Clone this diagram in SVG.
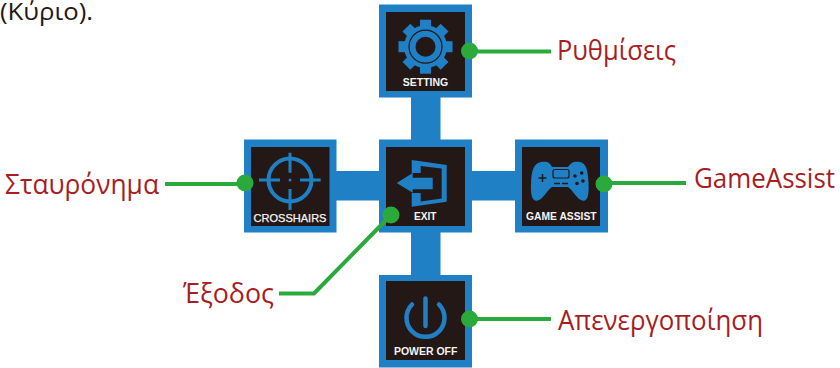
<svg xmlns="http://www.w3.org/2000/svg" width="840" height="368" viewBox="0 0 840 368">
<style>
.o{fill:#1f80c6}
.i{fill:#231815}
.b{fill:#1f80c6}
.t{font-family:"Liberation Sans",Arial,sans-serif;font-weight:700;font-size:11px;fill:#f4f4f4;text-anchor:middle}
.l{font-family:"Open Sans","Noto Sans",sans-serif;font-size:27px;fill:#a61e24}
.c{fill:none;stroke:#2aaa3c;stroke-width:4}
.d{fill:#2aaa3c}
</style>
<rect width="840" height="368" fill="#fff"/>
<text x="0" y="20" textLength="93" lengthAdjust="spacingAndGlyphs" style="font-family:'Open Sans','Noto Sans',sans-serif;font-size:23px;fill:#231815">(Κύριο).</text>
<g id="frame">
<rect class="b" x="411" y="97" width="29.500" height="178"/>
<rect class="b" x="336" y="171" width="179" height="29.500"/>
</g>
<g id="setting">
<rect class="o" x="379" y="4.500" width="93" height="93"/>
<rect class="i" x="386" y="12" width="79" height="79"/>
<g fill="#1f80c6">
<rect x="420" y="19.700" width="11" height="54"/>
<rect x="420" y="19.700" width="11" height="54" transform="rotate(45 425.500 46.700)"/>
<rect x="420" y="19.700" width="11" height="54" transform="rotate(90 425.500 46.700)"/>
<rect x="420" y="19.700" width="11" height="54" transform="rotate(135 425.500 46.700)"/>
<circle cx="425.500" cy="46.700" r="21.500"/>
</g>
<circle cx="425.500" cy="46.700" r="16.500" fill="none" stroke="#231815" stroke-width="1.200"/>
<circle cx="425.500" cy="46.700" r="10" fill="#231815"/>
<text class="t" x="425.500" y="85.500" textLength="45.500" lengthAdjust="spacingAndGlyphs">SETTING</text>
</g>
<g id="crosshairs">
<rect class="o" x="244" y="139.500" width="92.500" height="93"/>
<rect class="i" x="251" y="147" width="78.500" height="79"/>
<circle cx="290" cy="180" r="21.500" fill="none" stroke="#1f80c6" stroke-width="4"/>
<path d="M290 152.700v20M290 189v21M259 180h21M300 180h20.700" fill="none" stroke="#1f80c6" stroke-width="3"/>
<circle cx="290" cy="180" r="1.500" fill="#1f80c6"/>
<text class="t" x="290" y="221.700" textLength="73" lengthAdjust="spacingAndGlyphs" style="font-weight:400;stroke:#f4f4f4;stroke-width:.25">CROSSHAIRS</text>
</g>
<g id="exit">
<rect class="o" x="379" y="139.500" width="93" height="93"/>
<rect class="i" x="386" y="147" width="79" height="79"/>
<path class="b" d="M396.700 183L412.700 173V177.700H432.700V189.300H412.700V192.700Z"/>
<path class="b" d="M411.700 160L446.700 165V201.700L411.700 206.700V193H420.700V201.500L441.700 198.500V168.500L420.700 166V173H411.700Z"/>
<text class="t" x="425.300" y="220" textLength="22.500" lengthAdjust="spacingAndGlyphs">EXIT</text>
</g>
<g id="game-assist">
<rect class="o" x="515" y="139.500" width="93" height="93"/>
<rect class="i" x="522" y="147" width="78" height="79"/>
<path class="b" d="M541 162C548 161 550 163 552 167H568C571 163 573 161 580 162C586 163 588 170 588.500 183C589 195 588 201 583 200.700C577 200 573 190 568 187H552C547 190 543 200 537 200.700C532 201 530.500 195 531 183C531.500 170 534 163 541 162Z"/>
<rect x="553" y="169.500" width="16" height="8.500" rx="2" fill="none" stroke="#231815" stroke-width="1.200"/>
<path d="M554 183.500h6M562 183.500h6M538.500 178h8M542.500 174v8" stroke="#231815" stroke-width="1.500" fill="none"/>
<g fill="#231815"><circle cx="575" cy="176" r="1.800"/><circle cx="581.700" cy="173" r="1.800"/><circle cx="577" cy="183.500" r="1.800"/><circle cx="583" cy="181" r="1.800"/></g>
<text class="t" x="561.300" y="220" textLength="70.500" lengthAdjust="spacingAndGlyphs">GAME ASSIST</text>
</g>
<g id="power-off">
<rect class="o" x="379" y="275" width="93" height="92.500"/>
<rect class="i" x="386" y="281" width="79" height="79"/>
<path d="M412 304.500A19 19 0 1 0 439 304.500" fill="none" stroke="#1f80c6" stroke-width="4.500" stroke-linecap="round"/>
<path d="M425.500 298.500V326" fill="none" stroke="#1f80c6" stroke-width="4.500" stroke-linecap="round"/>
<text class="t" x="425.700" y="355" textLength="63.500" lengthAdjust="spacingAndGlyphs">POWER OFF</text>
</g>
<g id="connectors">
<path class="c" d="M470 51.500H551"/><circle class="d" cx="469.500" cy="51" r="8.500"/>
<path class="c" d="M165 184H245"/><circle class="d" cx="245" cy="183" r="8.500"/>
<path class="c" d="M391 215L314 293.500H279"/><circle class="d" cx="391" cy="215" r="8.500"/>
<path class="c" d="M604 183H686"/><circle class="d" cx="604" cy="184" r="8.500"/>
<path class="c" d="M470 319H551"/><circle class="d" cx="469.500" cy="319" r="8.500"/>
</g>
<g id="labels">
<text class="l" x="557" y="59.500" textLength="119" lengthAdjust="spacingAndGlyphs">Ρυθμίσεις</text>
<text class="l" x="5" y="193.500" textLength="154" lengthAdjust="spacingAndGlyphs">Σταυρόνημα</text>
<text class="l" x="694" y="188" textLength="141" lengthAdjust="spacingAndGlyphs">GameAssist</text>
<text class="l" x="183" y="303" textLength="91" lengthAdjust="spacingAndGlyphs">Έξοδος</text>
<text class="l" x="558" y="329.500" textLength="205" lengthAdjust="spacingAndGlyphs">Απενεργοποίηση</text>
</g>
</svg>
